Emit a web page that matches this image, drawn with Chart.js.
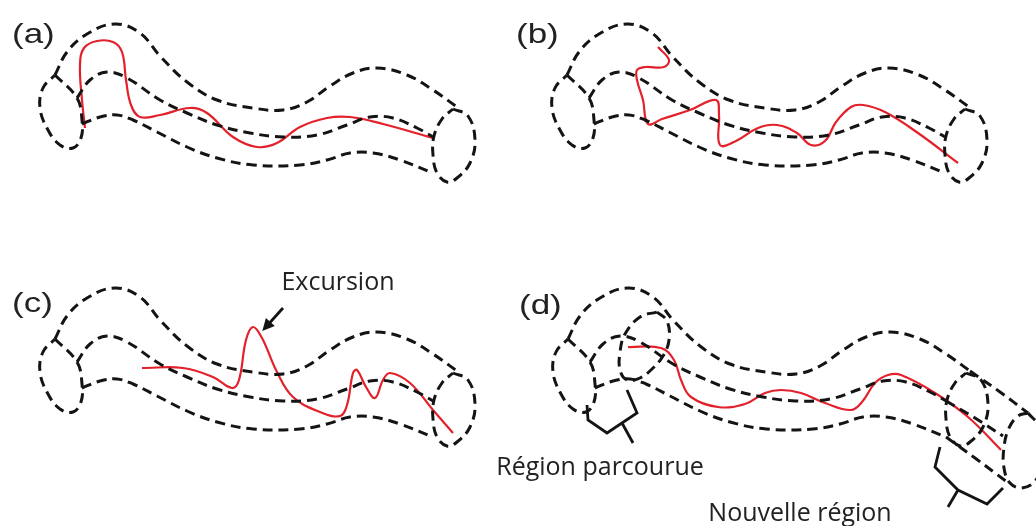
<!DOCTYPE html>
<html>
<head>
<meta charset="utf-8">
<script src="https://cdn.jsdelivr.net/npm/chart.js@4/dist/chart.umd.min.js"></script>
<style>
  html, body { margin: 0; padding: 0; background: #ffffff; }
  #wrap { width: 1036px; height: 526px; position: relative; }
  canvas { display: block; }
</style>
</head>
<body>
<div id="wrap"><canvas id="c" width="1036" height="526"></canvas></div>
<script>
// ---------- DATA (diagram geometry) ----------
// Tube template, in panel (a) coordinates
const tubeOuter  = [[55,75],[67,52],[87,34],[115,24],[140,33],[160,56],[187,82],[217,100],[253,108],[283,110],[307,102],[330,86],[353,73],[377,68],[407,75],[433,90],[457,107]];
const tubeMiddle = [[77,98],[90,80],[107,72],[127,78],[160,100],[187,113],[217,125],[250,133],[283,137],[317,135],[347,125],[370,117],[393,118],[417,128],[433,137]];
const tubeBottom = [[82,124],[100,117],[117,115],[133,120],[157,132],[187,147],[217,158],[253,165],[300,165],[327,160],[350,153],[373,153],[400,160],[433,173]];
const capLeft    = [[55,75],[77,98],[82,120],[81,138],[73,148],[60,145],[48,130],[40,108],[43,88],[55,75]];
const capRight   = [[453,109],[468,116],[475,140],[470,163],[457,178],[447,182],[437,173],[433,155],[434,136],[442,119],[453,109]];

// Panel offsets of the tube template
const panelNames   = ['(a)', '(b)', '(c)', '(d)'];
const panelOffsets = [[0,0],[512,0],[0,264],[513,264]];

// Trajectories (red)
const pathA = [[85,128],[82,100],[80,65],[84,48],[97,41],[113,42],[122,52],[126,80],[131,105],[140,117],[160,115],[190,108],[207,113],[233,137],[257,147],[277,143],[300,127],[327,118],[350,117],[383,124],[433,138]];
const pathB = [[658,47],[669,60],[664,67],[645,67],[637,70],[637,80],[643,100],[648,124],[662,119],[690,110],[716,100],[719,115],[720,145],[736,141],[758,128],[777,125],[797,133],[811,145],[825,141],[836,122],[851,107],[863,105],[885,112],[918,133],[958,163]];
const pathC = [[142,368],[183,368],[213,377],[232,388],[239,380],[246,340],[253,327],[262,338],[277,372],[293,397],[320,412],[340,416],[347,405],[353,373],[357,370],[366,387],[375,398],[383,380],[390,373],[410,383],[433,410],[453,433]];
const pathD = [[628,347],[661,348],[674,360],[681,380],[691,397],[718,407],[745,404],[765,393],[781,390],[801,393],[825,403],[851,410],[862,402],[875,383],[888,375],[901,375],[935,393],[968,417],[1001,450]];

// Panel (d) extras: explored region ellipse, tube extension, new cap, brackets
const dRegionCap   = [[657,312],[667,321],[669,340],[663,356],[652,369],[640,378],[627,380],[620,370],[620,352],[625,334],[640,317],[657,312]];
const dExtOuter    = [[970,371],[1000,392],[1028,413]];
const dExtMiddle   = [[946,401],[975,418],[1003,436]];
const dExtBottom   = [[946,437],[975,458],[1007,482]];
const dNewCap      = [[1028,413],[1040,428],[1043,458],[1036,480],[1022,488],[1010,483],[1004,468],[1004,447],[1009,428],[1018,416],[1028,413]];
const bracketOld   = [[587,405],[588,420],[607,433],[637,413],[627,390]];
const stemOld      = [[622,423],[633,443]];
const bracketNew   = [[940,447],[935,467],[958,490],[987,504],[1003,488]];
const stemNew      = [[958,490],[948,507]];

// Arrow (Excursion)
const arrowLine = [[283,308],[265,328]];

// Texts
const annotTexts = ['Excursion', 'Région parcourue', 'Nouvelle région'];

// ---------- LAYOUT / STYLE ----------
const labelPos = [[12,35],[516,35],[12,304],[519,306]];
const annotPos = [[338,283],[600,468],[800,514]];
const BLACK = '#141414', RED = '#e3212b';

function pts(arr, dx = 0, dy = 0) { return arr.map(([x, y]) => ({ x: x + dx, y: y + dy })); }
function dashed(arr, dx, dy) {
  return { data: pts(arr, dx, dy), showLine: true, borderColor: BLACK, borderWidth: 3,
           borderDash: [10, 6], tension: 0.4, pointRadius: 0, fill: false };
}
function solid(arr, color, w, t) {
  return { data: pts(arr), showLine: true, borderColor: color, borderWidth: w,
           tension: t, pointRadius: 0, fill: false };
}

const datasets = [];
panelOffsets.forEach(([dx, dy]) => {
  [tubeOuter, tubeMiddle, tubeBottom, capLeft, capRight].forEach(s => datasets.push(dashed(s, dx, dy)));
});
[dRegionCap, dExtOuter, dExtMiddle, dExtBottom, dNewCap].forEach(s => datasets.push(dashed(s, 0, 0)));
[bracketOld, stemOld, bracketNew, stemNew].forEach(s => datasets.push(solid(s, BLACK, 2.8, 0)));
[pathA, pathB, pathC, pathD].forEach(s => datasets.push(solid(s, RED, 2.2, 0.4)));
datasets.push(solid(arrowLine, BLACK, 2.8, 0));

const textPlugin = {
  id: 'texts',
  afterDatasetsDraw(chart) {
    const { ctx, scales } = chart;
    const X = v => scales.x.getPixelForValue(v), Y = v => scales.y.getPixelForValue(v);
    ctx.save();
    // arrow head
    const [p0, p1] = arrowLine;
    const ang = Math.atan2(Y(p1[1]) - Y(p0[1]), X(p1[0]) - X(p0[0]));
    ctx.fillStyle = BLACK;
    ctx.beginPath();
    ctx.translate(X(p1[0]), Y(p1[1]));
    ctx.rotate(ang);
    ctx.moveTo(4, 0); ctx.lineTo(-8, -6); ctx.lineTo(-8, 6); ctx.closePath();
    ctx.fill();
    ctx.restore();

    ctx.save();
    ctx.fillStyle = '#222';
    ctx.textBaseline = 'middle';
    panelNames.forEach((t, i) => {
      ctx.save();
      ctx.translate(labelPos[i][0], labelPos[i][1]);
      ctx.scale(1.25, 1);
      ctx.font = '28px "Liberation Sans", Arial, sans-serif';
      ctx.textAlign = 'left';
      ctx.fillText(t, 0, 0);
      ctx.restore();
    });
    ctx.font = '25px "Open Sans", sans-serif';
    ctx.textAlign = 'center';
    annotTexts.forEach((t, i) => ctx.fillText(t, annotPos[i][0], annotPos[i][1]));
    ctx.restore();
  }
};

new Chart(document.getElementById('c'), {
  type: 'scatter',
  data: { datasets },
  options: {
    responsive: false, animation: false, devicePixelRatio: 1,
    layout: { padding: 0 },
    plugins: { legend: { display: false }, tooltip: { enabled: false } },
    scales: {
      x: { type: 'linear', min: 0, max: 1036, display: false },
      y: { type: 'linear', min: 0, max: 526, reverse: true, display: false }
    }
  },
  plugins: [textPlugin]
});
</script>
</body>
</html>
